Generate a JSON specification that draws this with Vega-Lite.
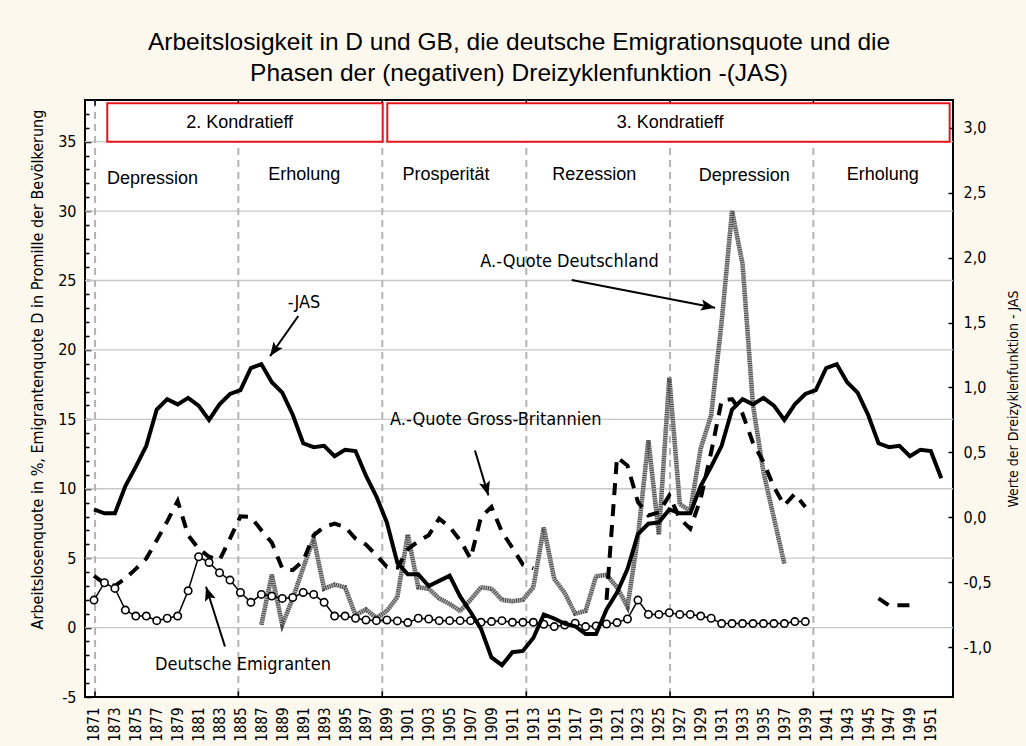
{
  "$schema": "https://vega.github.io/schema/vega-lite/v6.json",
  "width": 868,
  "height": 597,
  "autosize": {"type": "none"},
  "padding": {"left": 85, "top": 100, "right": 73, "bottom": 49},
  "background": "#FDF8EE",
  "config": {
    "view": {"fill": "white", "stroke": "black", "strokeWidth": 2},
    "font": "Liberation Sans",
    "axis": {"labelColor": "black", "titleColor": "black", "titleFontWeight": "normal"}
  },
  "title": {
    "text": ["Arbeitslosigkeit in D und GB, die deutsche Emigrationsquote und die", "Phasen der (negativen) Dreizyklenfunktion -(JAS)"],
    "font": "Liberation Sans",
    "fontSize": 24.5,
    "fontWeight": "normal",
    "color": "black",
    "lineHeight": 31,
    "anchor": "middle",
    "offset": 13
  },
  "datasets": {
    "gridlines": [{"v": 0}, {"v": 5}, {"v": 10}, {"v": 15}, {"v": 20}, {"v": 25}, {"v": 30}, {"v": 35}],
    "dividers": [{"year": 1871.1}, {"year": 1884.8}, {"year": 1898.56}, {"year": 1912.33}, {"year": 1926.07}, {"year": 1939.77}],
    "kondratieff": [
      {"label": "2. Kondratieff", "start": 1872.27, "end": 1898.6, "lo": 35.0, "hi": 37.76, "mid": 1884.93, "ty": 35.97},
      {"label": "3. Kondratieff", "start": 1899.04, "end": 1952.8, "lo": 35.0, "hi": 37.76, "mid": 1926.07, "ty": 35.97}
    ],
    "phases": [
      {"label": "Depression", "year": 1876.6, "v": 31.95},
      {"label": "Erholung", "year": 1891.1, "v": 32.25},
      {"label": "Prosperität", "year": 1904.65, "v": 32.25},
      {"label": "Rezession", "year": 1918.83, "v": 32.25},
      {"label": "Depression", "year": 1933.17, "v": 32.13},
      {"label": "Erholung", "year": 1946.41, "v": 32.25}
    ],
    "jas": [
      {"year": 1871, "v": 0.06}, {"year": 1872, "v": 0.03}, {"year": 1873, "v": 0.03}, {"year": 1874, "v": 0.24},
      {"year": 1875, "v": 0.39}, {"year": 1876, "v": 0.55}, {"year": 1877, "v": 0.83}, {"year": 1878, "v": 0.91},
      {"year": 1879, "v": 0.87}, {"year": 1880, "v": 0.92}, {"year": 1881, "v": 0.86}, {"year": 1882, "v": 0.75},
      {"year": 1883, "v": 0.87}, {"year": 1884, "v": 0.95}, {"year": 1885, "v": 0.98}, {"year": 1886, "v": 1.15},
      {"year": 1887, "v": 1.18}, {"year": 1888, "v": 1.04}, {"year": 1889, "v": 0.96}, {"year": 1890, "v": 0.79},
      {"year": 1891, "v": 0.57}, {"year": 1892, "v": 0.54}, {"year": 1893, "v": 0.55}, {"year": 1894, "v": 0.47},
      {"year": 1895, "v": 0.52}, {"year": 1896, "v": 0.51}, {"year": 1897, "v": 0.32}, {"year": 1898, "v": 0.16},
      {"year": 1899, "v": -0.04}, {"year": 1900, "v": -0.35}, {"year": 1901, "v": -0.44}, {"year": 1902, "v": -0.44},
      {"year": 1903, "v": -0.53}, {"year": 1904, "v": -0.49}, {"year": 1905, "v": -0.45}, {"year": 1906, "v": -0.61},
      {"year": 1907, "v": -0.73}, {"year": 1908, "v": -0.86}, {"year": 1909, "v": -1.08}, {"year": 1910, "v": -1.14},
      {"year": 1911, "v": -1.04}, {"year": 1912, "v": -1.03}, {"year": 1913, "v": -0.93}, {"year": 1914, "v": -0.75},
      {"year": 1915, "v": -0.78}, {"year": 1916, "v": -0.82}, {"year": 1917, "v": -0.84}, {"year": 1918, "v": -0.9},
      {"year": 1919, "v": -0.9}, {"year": 1920, "v": -0.71}, {"year": 1921, "v": -0.58}, {"year": 1922, "v": -0.4},
      {"year": 1923, "v": -0.13}, {"year": 1924, "v": -0.05}, {"year": 1925, "v": -0.04}, {"year": 1926, "v": 0.06},
      {"year": 1927, "v": 0.03}, {"year": 1928, "v": 0.03}, {"year": 1929, "v": 0.24}, {"year": 1930, "v": 0.39},
      {"year": 1931, "v": 0.55}, {"year": 1932, "v": 0.83}, {"year": 1933, "v": 0.91}, {"year": 1934, "v": 0.87},
      {"year": 1935, "v": 0.92}, {"year": 1936, "v": 0.86}, {"year": 1937, "v": 0.75}, {"year": 1938, "v": 0.87},
      {"year": 1939, "v": 0.95}, {"year": 1940, "v": 0.98}, {"year": 1941, "v": 1.15}, {"year": 1942, "v": 1.18},
      {"year": 1943, "v": 1.04}, {"year": 1944, "v": 0.96}, {"year": 1945, "v": 0.79}, {"year": 1946, "v": 0.57},
      {"year": 1947, "v": 0.54}, {"year": 1948, "v": 0.55}, {"year": 1949, "v": 0.47}, {"year": 1950, "v": 0.52},
      {"year": 1951, "v": 0.51}, {"year": 1952, "v": 0.3}
    ],
    "emig": [
      {"year": 1871, "v": 1.98}, {"year": 1872, "v": 3.23}, {"year": 1873, "v": 2.82}, {"year": 1874, "v": 1.26},
      {"year": 1875, "v": 0.83}, {"year": 1876, "v": 0.83}, {"year": 1877, "v": 0.5}, {"year": 1878, "v": 0.67},
      {"year": 1879, "v": 0.83}, {"year": 1880, "v": 2.65}, {"year": 1881, "v": 5.1}, {"year": 1882, "v": 4.69},
      {"year": 1883, "v": 3.95}, {"year": 1884, "v": 3.42}, {"year": 1885, "v": 2.53}, {"year": 1886, "v": 1.82},
      {"year": 1887, "v": 2.39}, {"year": 1888, "v": 2.27}, {"year": 1889, "v": 2.1}, {"year": 1890, "v": 2.17},
      {"year": 1891, "v": 2.53}, {"year": 1892, "v": 2.39}, {"year": 1893, "v": 1.82}, {"year": 1894, "v": 0.83},
      {"year": 1895, "v": 0.83}, {"year": 1896, "v": 0.67}, {"year": 1897, "v": 0.55}, {"year": 1898, "v": 0.5},
      {"year": 1899, "v": 0.55}, {"year": 1900, "v": 0.48}, {"year": 1901, "v": 0.36}, {"year": 1902, "v": 0.67},
      {"year": 1903, "v": 0.62}, {"year": 1904, "v": 0.5}, {"year": 1905, "v": 0.5}, {"year": 1906, "v": 0.5},
      {"year": 1907, "v": 0.5}, {"year": 1908, "v": 0.38}, {"year": 1909, "v": 0.43}, {"year": 1910, "v": 0.5},
      {"year": 1911, "v": 0.38}, {"year": 1912, "v": 0.38}, {"year": 1913, "v": 0.38}, {"year": 1914, "v": 0.24},
      {"year": 1915, "v": 0.07}, {"year": 1916, "v": 0.19}, {"year": 1917, "v": 0.31}, {"year": 1918, "v": 0.07},
      {"year": 1919, "v": 0.12}, {"year": 1920, "v": 0.26}, {"year": 1921, "v": 0.36}, {"year": 1922, "v": 0.62},
      {"year": 1923, "v": 1.98}, {"year": 1924, "v": 0.95}, {"year": 1925, "v": 0.95}, {"year": 1926, "v": 1.07},
      {"year": 1927, "v": 0.95}, {"year": 1928, "v": 0.95}, {"year": 1929, "v": 0.83}, {"year": 1930, "v": 0.67},
      {"year": 1931, "v": 0.29}, {"year": 1932, "v": 0.29}, {"year": 1933, "v": 0.29}, {"year": 1934, "v": 0.29},
      {"year": 1935, "v": 0.29}, {"year": 1936, "v": 0.29}, {"year": 1937, "v": 0.29}, {"year": 1938, "v": 0.43},
      {"year": 1939, "v": 0.43}
    ],
    "deu": [
      {"year": 1887, "v": 0.2}, {"year": 1888, "v": 3.8}, {"year": 1889, "v": 0.2}, {"year": 1890, "v": 2.1},
      {"year": 1891, "v": 4.3}, {"year": 1892, "v": 6.4}, {"year": 1893, "v": 2.8}, {"year": 1894, "v": 3.1},
      {"year": 1895, "v": 2.9}, {"year": 1896, "v": 0.9}, {"year": 1897, "v": 1.3}, {"year": 1898, "v": 0.7},
      {"year": 1899, "v": 1.2}, {"year": 1900, "v": 2.2}, {"year": 1901, "v": 6.7}, {"year": 1902, "v": 2.9},
      {"year": 1903, "v": 2.8}, {"year": 1904, "v": 2.1}, {"year": 1905, "v": 1.7}, {"year": 1906, "v": 1.2},
      {"year": 1907, "v": 2.0}, {"year": 1908, "v": 2.9}, {"year": 1909, "v": 2.8}, {"year": 1910, "v": 2.0},
      {"year": 1911, "v": 1.9}, {"year": 1912, "v": 2.0}, {"year": 1913, "v": 2.9}, {"year": 1914, "v": 7.2},
      {"year": 1915, "v": 3.5}, {"year": 1916, "v": 2.5}, {"year": 1917, "v": 1.0}, {"year": 1918, "v": 1.2},
      {"year": 1919, "v": 3.7}, {"year": 1920, "v": 3.8}, {"year": 1921, "v": 2.9}, {"year": 1922, "v": 1.5},
      {"year": 1923, "v": 6.5}, {"year": 1924, "v": 13.5}, {"year": 1925, "v": 6.7}, {"year": 1926, "v": 18.0},
      {"year": 1927, "v": 8.9}, {"year": 1928, "v": 8.4}, {"year": 1929, "v": 12.9}, {"year": 1930, "v": 15.3},
      {"year": 1931, "v": 22.0}, {"year": 1932, "v": 30.0}, {"year": 1933, "v": 26.2}, {"year": 1934, "v": 16.0},
      {"year": 1935, "v": 11.2}, {"year": 1936, "v": 7.9}, {"year": 1937, "v": 4.6}
    ],
    "gb": [
      {"year": 1871, "v": 3.73, "part": 1}, {"year": 1872, "v": 3.18, "part": 1}, {"year": 1873, "v": 3.01, "part": 1},
      {"year": 1874, "v": 3.54, "part": 1}, {"year": 1875, "v": 4.23, "part": 1}, {"year": 1876, "v": 4.97, "part": 1},
      {"year": 1877, "v": 6.29, "part": 1}, {"year": 1878, "v": 7.65, "part": 1}, {"year": 1879, "v": 9.12, "part": 1},
      {"year": 1880, "v": 6.65, "part": 1}, {"year": 1881, "v": 5.69, "part": 1}, {"year": 1882, "v": 5.1, "part": 1},
      {"year": 1883, "v": 4.86, "part": 1}, {"year": 1884, "v": 6.41, "part": 1}, {"year": 1885, "v": 8.01, "part": 1},
      {"year": 1886, "v": 7.97, "part": 1}, {"year": 1887, "v": 7.01, "part": 1}, {"year": 1888, "v": 6.12, "part": 1},
      {"year": 1889, "v": 4.26, "part": 1}, {"year": 1890, "v": 4.14, "part": 1}, {"year": 1891, "v": 4.8, "part": 1},
      {"year": 1892, "v": 6.65, "part": 1}, {"year": 1893, "v": 7.25, "part": 1}, {"year": 1894, "v": 7.49, "part": 1},
      {"year": 1895, "v": 7.25, "part": 1}, {"year": 1896, "v": 6.41, "part": 1}, {"year": 1897, "v": 5.98, "part": 1},
      {"year": 1898, "v": 5.21, "part": 1}, {"year": 1899, "v": 4.38, "part": 1}, {"year": 1900, "v": 4.31, "part": 1},
      {"year": 1901, "v": 5.64, "part": 1}, {"year": 1902, "v": 6.22, "part": 1}, {"year": 1903, "v": 6.65, "part": 1},
      {"year": 1904, "v": 7.85, "part": 1}, {"year": 1905, "v": 7.25, "part": 1}, {"year": 1906, "v": 6.29, "part": 1},
      {"year": 1907, "v": 4.97, "part": 1}, {"year": 1908, "v": 7.97, "part": 1}, {"year": 1909, "v": 8.69, "part": 1},
      {"year": 1910, "v": 6.89, "part": 1}, {"year": 1911, "v": 5.74, "part": 1}, {"year": 1912, "v": 4.54, "part": 1},
      {"year": 1913, "v": 4.26, "part": 1},
      {"year": 1920, "v": 2.0, "part": 2}, {"year": 1921, "v": 12.27, "part": 2}, {"year": 1922, "v": 11.67, "part": 2},
      {"year": 1923, "v": 9.04, "part": 2}, {"year": 1924, "v": 8.08, "part": 2}, {"year": 1925, "v": 8.3, "part": 2},
      {"year": 1926, "v": 9.52, "part": 2}, {"year": 1927, "v": 7.85, "part": 2}, {"year": 1928, "v": 7.13, "part": 2},
      {"year": 1929, "v": 9.28, "part": 2}, {"year": 1930, "v": 12.63, "part": 2}, {"year": 1931, "v": 16.34, "part": 2},
      {"year": 1932, "v": 16.46, "part": 2}, {"year": 1933, "v": 15.4, "part": 2}, {"year": 1934, "v": 13.3, "part": 2},
      {"year": 1935, "v": 11.92, "part": 2}, {"year": 1936, "v": 10.12, "part": 2}, {"year": 1937, "v": 8.8, "part": 2},
      {"year": 1938, "v": 9.64, "part": 2}, {"year": 1939, "v": 8.69, "part": 2},
      {"year": 1946, "v": 2.1, "part": 3}, {"year": 1947, "v": 1.6, "part": 3}, {"year": 1948, "v": 1.6, "part": 3},
      {"year": 1949, "v": 1.6, "part": 3}
    ],
    "notes": [
      {"name": "jas", "label": "-JAS", "tx": 1891.08, "ty": 23.04, "x": 1890.53, "y": 22.44, "x2": 1887.83, "y2": 19.55},
      {"name": "deu", "label": "A.-Quote Deutschland", "tx": 1916.46, "ty": 25.97, "x": 1916.67, "y": 25.03, "x2": 1930.37, "y2": 23.04},
      {"name": "gb", "label": "A.-Quote Gross-Britannien", "tx": 1909.41, "ty": 14.6, "x": 1907.42, "y": 12.75, "x2": 1908.7, "y2": 9.52},
      {"name": "emi", "label": "Deutsche Emigranten", "tx": 1885.24, "ty": -3.07, "x": 1883.52, "y": -1.36, "x2": 1881.71, "y2": 2.94}
    ]
  },
  "layer": [
    {
      "layer": [
        {
          "data": {"name": "gridlines"},
          "mark": {"type": "rule", "color": "#c8c8c8", "strokeWidth": 1.3},
          "encoding": {
            "y": {
              "field": "v", "type": "quantitative",
              "scale": {"domain": [-5, 38], "nice": false, "zero": false},
              "axis": {
                "title": "Arbeitslosenquote in %, Emigrantenquote D in Promille der Bevölkerung",
                "titleFont": "DejaVu Sans Condensed, Roboto, sans-serif",
                "titleFontSize": 16,
                "titlePadding": 12,
                "titleY": 269,
                "values": [-5, -4, -3, -2, -1, 0, 1, 2, 3, 4, 5, 6, 7, 8, 9, 10, 11, 12, 13, 14, 15, 16, 17, 18, 19, 20, 21, 22, 23, 24, 25, 26, 27, 28, 29, 30, 31, 32, 33, 34, 35, 36, 37],
                "tickCount": 200,
                "labelExpr": "datum.value % 5 === 0 ? (datum.value < 0 ? '-' + abs(datum.value) : '' + datum.value) : ''",
                "labelFont": "DejaVu Sans Condensed, Roboto, sans-serif",
                "labelFontSize": 16,
                "labelOverlap": false,
                "labelFlush": false,
                "labelBound": false,
                "labelPadding": 15,
                "tickColor": "black",
                "tickWidth": 1.5,
                "tickSize": {"condition": {"test": "datum.value % 5 === 0", "value": -6}, "value": -4},
                "domain": false,
                "grid": false
              }
            }
          }
        },
        {
          "data": {"name": "dividers"},
          "mark": {"type": "rule", "color": "#b4b4b4", "strokeWidth": 2, "strokeDash": [7, 5]},
          "encoding": {
            "x": {
              "field": "year", "type": "quantitative",
              "scale": {"domain": [1870.14, 1953.12], "nice": false, "zero": false},
              "axis": {
                "title": null,
                "values": [1871, 1873, 1875, 1877, 1879, 1881, 1883, 1885, 1887, 1889, 1891, 1893, 1895, 1897, 1899, 1901, 1903, 1905, 1907, 1909, 1911, 1913, 1915, 1917, 1919, 1921, 1923, 1925, 1927, 1929, 1931, 1933, 1935, 1937, 1939, 1941, 1943, 1945, 1947, 1949, 1951],
                "tickCount": 200,
                "format": "d",
                "labelAngle": -90,
                "labelAlign": "right",
                "labelBaseline": "middle",
                "labelFont": "DejaVu Sans Condensed, Roboto, sans-serif",
                "labelFontSize": 15,
                "labelPadding": 10,
                "labelOverlap": false,
                "labelFlush": false,
                "labelBound": false,
                "ticks": false,
                "domain": false,
                "grid": false
              }
            }
          }
        },
        {
          "data": {"name": "dividers"},
          "mark": {"type": "rule", "color": "black", "strokeWidth": 1.5},
          "encoding": {
            "x": {"field": "year", "type": "quantitative"},
            "y": {"datum": -5},
            "y2": {"datum": -4.6}
          }
        },
        {
          "data": {"name": "dividers"},
          "mark": {"type": "rule", "color": "black", "strokeWidth": 1.5},
          "encoding": {
            "x": {"field": "year", "type": "quantitative"},
            "y": {"datum": 38},
            "y2": {"datum": 37.6}
          }
        },
        {
          "data": {"name": "kondratieff"},
          "mark": {"type": "rect", "fill": "white", "stroke": "#e8141b", "strokeWidth": 2},
          "encoding": {
            "x": {"field": "start", "type": "quantitative"},
            "x2": {"field": "end"},
            "y": {"field": "lo", "type": "quantitative"},
            "y2": {"field": "hi"}
          }
        },
        {
          "data": {"name": "kondratieff"},
          "mark": {"type": "text", "font": "Liberation Sans", "fontSize": 18, "baseline": "alphabetic", "align": "center", "color": "black"},
          "encoding": {
            "x": {"field": "mid", "type": "quantitative"},
            "y": {"field": "ty", "type": "quantitative"},
            "text": {"field": "label"}
          }
        },
        {
          "data": {"name": "phases"},
          "mark": {"type": "text", "font": "Liberation Sans", "fontSize": 18, "baseline": "alphabetic", "align": "center", "color": "black"},
          "encoding": {
            "x": {"field": "year", "type": "quantitative"},
            "y": {"field": "v", "type": "quantitative"},
            "text": {"field": "label"}
          }
        },
        {
          "data": {"name": "deu"},
          "mark": {"type": "line", "color": "#b0b0b0", "strokeWidth": 4.5, "strokeJoin": "miter"},
          "encoding": {
            "x": {"field": "year", "type": "quantitative"},
            "y": {"field": "v", "type": "quantitative"}
          }
        },
        {
          "data": {"name": "deu"},
          "mark": {"type": "line", "color": "#4a4a4a", "strokeWidth": 4.5, "strokeDash": [1, 1.2], "strokeJoin": "miter"},
          "encoding": {
            "x": {"field": "year", "type": "quantitative"},
            "y": {"field": "v", "type": "quantitative"}
          }
        },
        {
          "data": {"name": "gb"},
          "mark": {"type": "line", "color": "black", "strokeWidth": 4, "strokeDash": [12, 9], "strokeCap": "butt"},
          "encoding": {
            "x": {"field": "year", "type": "quantitative"},
            "y": {"field": "v", "type": "quantitative"},
            "detail": {"field": "part", "type": "nominal"}
          }
        },
        {
          "data": {"name": "emig"},
          "mark": {"type": "line", "color": "black", "strokeWidth": 1.5},
          "encoding": {
            "x": {"field": "year", "type": "quantitative"},
            "y": {"field": "v", "type": "quantitative"}
          }
        },
        {
          "data": {"name": "emig"},
          "mark": {"type": "point", "shape": "circle", "filled": true, "fill": "white", "stroke": "black", "strokeWidth": 1.6, "size": 55, "opacity": 1},
          "encoding": {
            "x": {"field": "year", "type": "quantitative"},
            "y": {"field": "v", "type": "quantitative"}
          }
        }
      ]
    },
    {
      "data": {"name": "jas"},
      "mark": {"type": "line", "color": "black", "strokeWidth": 4, "strokeJoin": "miter"},
      "encoding": {
        "x": {"field": "year", "type": "quantitative", "scale": {"domain": [1870.14, 1953.12], "nice": false, "zero": false}},
        "y": {
          "field": "v", "type": "quantitative",
          "scale": {"domain": [-1.385, 3.215], "nice": false, "zero": false},
          "axis": {
            "orient": "right",
            "title": "Werte der Dreizyklenfunktion - JAS",
            "titleFont": "DejaVu Sans Condensed, Roboto, sans-serif",
            "titleFontSize": 14,
            "titleAngle": 270,
            "titleBaseline": "top",
            "titlePadding": 15,
            "values": [-1, -0.5, 0, 0.5, 1, 1.5, 2, 2.5, 3],
            "tickCount": 200,
            "labelExpr": "(datum.value < 0 ? '-' : '') + replace(format(abs(datum.value), '.1f'), '.', ',')",
            "labelFont": "DejaVu Sans Condensed, Roboto, sans-serif",
            "labelFontSize": 16,
            "labelPadding": 15,
            "labelOverlap": false,
            "labelFlush": false,
            "labelBound": false,
            "tickColor": "black",
            "tickWidth": 1.5,
            "tickSize": -5,
            "domain": false,
            "grid": false
          }
        }
      }
    },
    {
      "data": {"name": "notes"},
      "layer": [
        {
          "mark": {"type": "rule", "color": "black", "strokeWidth": 2},
          "encoding": {
            "x": {"field": "x", "type": "quantitative", "scale": {"domain": [1870.14, 1953.12], "nice": false, "zero": false}},
            "y": {"field": "y", "type": "quantitative", "scale": {"domain": [-5, 38], "nice": false, "zero": false}, "axis": null},
            "x2": {"field": "x2"},
            "y2": {"field": "y2"}
          }
        },
        {
          "transform": [{"filter": "datum.name === 'jas'"}],
          "mark": {"type": "point", "shape": "M0,0L-0.4,1L0,0.8L0.4,1Z", "filled": true, "color": "black", "opacity": 1, "size": 784, "angle": 215},
          "encoding": {
            "x": {"field": "x2", "type": "quantitative"},
            "y": {"field": "y2", "type": "quantitative", "axis": null}
          }
        },
        {
          "transform": [{"filter": "datum.name === 'deu'"}],
          "mark": {"type": "point", "shape": "M0,0L-0.4,1L0,0.8L0.4,1Z", "filled": true, "color": "black", "opacity": 1, "size": 784, "angle": 101},
          "encoding": {
            "x": {"field": "x2", "type": "quantitative"},
            "y": {"field": "y2", "type": "quantitative", "axis": null}
          }
        },
        {
          "transform": [{"filter": "datum.name === 'gb'"}],
          "mark": {"type": "point", "shape": "M0,0L-0.4,1L0,0.8L0.4,1Z", "filled": true, "color": "black", "opacity": 1, "size": 784, "angle": 164},
          "encoding": {
            "x": {"field": "x2", "type": "quantitative"},
            "y": {"field": "y2", "type": "quantitative", "axis": null}
          }
        },
        {
          "transform": [{"filter": "datum.name === 'emi'"}],
          "mark": {"type": "point", "shape": "M0,0L-0.4,1L0,0.8L0.4,1Z", "filled": true, "color": "black", "opacity": 1, "size": 784, "angle": 342},
          "encoding": {
            "x": {"field": "x2", "type": "quantitative"},
            "y": {"field": "y2", "type": "quantitative", "axis": null}
          }
        },
        {
          "mark": {"type": "text", "font": "DejaVu Sans Condensed, Roboto, sans-serif", "fontSize": 18, "baseline": "alphabetic", "align": "center", "color": "black"},
          "encoding": {
            "x": {"field": "tx", "type": "quantitative"},
            "y": {"field": "ty", "type": "quantitative", "axis": null},
            "text": {"field": "label"}
          }
        }
      ]
    }
  ],
  "resolve": {"scale": {"y": "independent"}, "axis": {"y": "independent"}}
}
